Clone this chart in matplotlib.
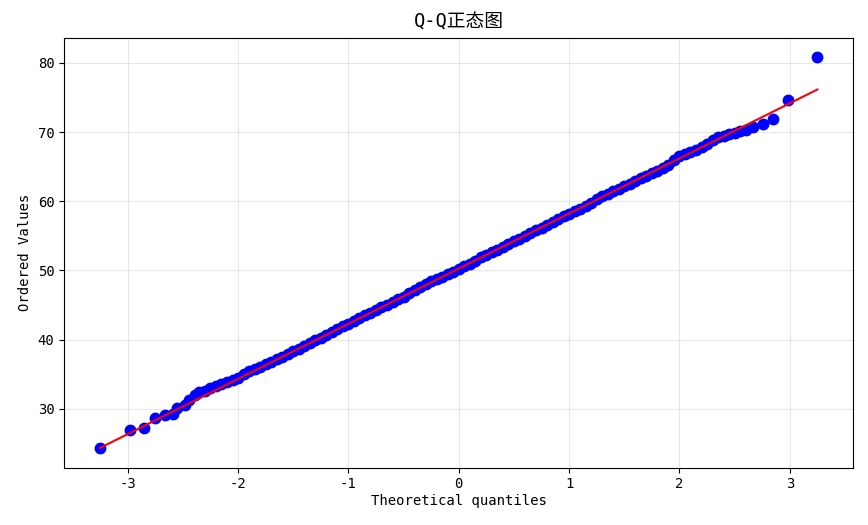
import numpy as np
import matplotlib.pyplot as plt

plt.rcParams['font.family'] = ['DejaVu Sans Mono', 'Noto Sans CJK SC']
plt.rcParams['axes.unicode_minus'] = False

# Cola inferior (cuantiles teoricos, valores ordenados)
low_x = [-3.25, -2.98, -2.85, -2.75, -2.66, -2.59, -2.55, -2.48, -2.44, -2.39, -2.35]
low_y = [24.3, 26.95, 27.2, 28.7, 29.1, 29.3, 30.1, 30.6, 31.3, 32.0, 32.4]

body_x = [-2.30, -2.25, -2.20, -2.15, -2.10, -2.05, -2.00, -1.95, -1.90, -1.85,
          -1.80, -1.75, -1.70, -1.65, -1.60, -1.55, -1.50, -1.45, -1.40, -1.35,
          -1.30, -1.25, -1.20, -1.15, -1.10, -1.05, -1.00, -0.95, -0.90, -0.85,
          -0.80, -0.75, -0.70, -0.65, -0.60, -0.55, -0.50, -0.45, -0.40, -0.35,
          -0.30, -0.25, -0.20, -0.15, -0.10, -0.05, 0.00, 0.05, 0.10, 0.15,
          0.20, 0.25, 0.30, 0.35, 0.40, 0.45, 0.50, 0.55, 0.60, 0.65,
          0.70, 0.75, 0.80, 0.85, 0.90, 0.95, 1.00, 1.05, 1.10, 1.15,
          1.20, 1.25, 1.30, 1.35, 1.40, 1.45, 1.50, 1.55, 1.60, 1.65,
          1.70, 1.75, 1.80, 1.85, 1.90, 1.95, 2.00, 2.05, 2.10, 2.15,
          2.20, 2.25, 2.30, 2.35, 2.40, 2.45, 2.50, 2.55, 2.60]
body_y = [32.6, 33.0, 33.3, 33.6, 33.9, 34.2, 34.5, 35.0, 35.4, 35.8,
          36.1, 36.5, 36.8, 37.2, 37.5, 37.9, 38.3, 38.7, 39.1, 39.5,
          39.9, 40.3, 40.7, 41.1, 41.5, 41.9, 42.3, 42.7, 43.1, 43.5,
          43.9, 44.3, 44.7, 45.0, 45.4, 45.8, 46.2, 46.7, 47.2, 47.6,
          48.0, 48.4, 48.7, 49.1, 49.5, 49.8, 50.2, 50.6, 51.0, 51.4,
          51.9, 52.3, 52.7, 53.0, 53.4, 53.8, 54.2, 54.6, 55.0, 55.4,
          55.8, 56.2, 56.6, 57.0, 57.4, 57.8, 58.2, 58.6, 58.9, 59.3,
          59.8, 60.3, 60.8, 61.1, 61.5, 61.8, 62.2, 62.5, 62.9, 63.3,
          63.7, 64.1, 64.4, 64.8, 65.2, 66.0, 66.5, 66.8, 67.1, 67.4,
          67.8, 68.3, 68.9, 69.3, 69.5, 69.7, 69.9, 70.1, 70.3]

# Cola superior
high_x = [2.67, 2.76, 2.85, 2.98, 3.25]
high_y = [70.7, 71.1, 71.9, 74.6, 80.8]

# Recta de ajuste (pendiente, intercepto)
fit_slope = 7.97
fit_intercept = 50.25

osm = np.array(low_x + body_x + high_x)
osr = np.array(low_y + body_y + high_y)

fig = plt.figure(figsize=(8.68, 5.25), dpi=100)
ax = fig.add_axes([0.074, 0.109, 0.909, 0.819])
ax.plot(osm, osr, 'bo', markersize=7.5)
ax.plot(osm, fit_slope * osm + fit_intercept, 'r-', linewidth=1.5)
ax.set_title('Q-Q正态图', fontsize=13.5, pad=7)
ax.set_xlabel('Theoretical quantiles', labelpad=2)
ax.set_ylabel('Ordered Values')
ax.grid(True, alpha=0.3)
fig.savefig('out.png', dpi=100)
